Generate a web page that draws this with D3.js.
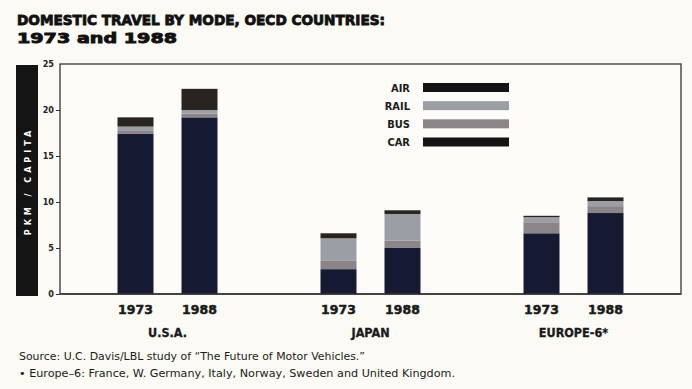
<!DOCTYPE html>
<html lang="en">
<head>
    <meta charset="UTF-8">
    <title>Domestic Travel by Mode</title>
    <script src="https://cdn.jsdelivr.net/npm/d3@7"></script>
    <style>
        body { margin: 0; background: #fbfaf4; }
        svg { display: block; }
        .title { font-family: "DejaVu Sans", sans-serif; font-weight: bold; font-size: 14.5px; fill: #111; stroke: #111; stroke-width: 0.9px; }
        .tick-lbl { font-family: "Liberation Sans Narrow", "DejaVu Sans Condensed", sans-serif; font-weight: bold; font-size: 9px; fill: #222; }
        .year { font-family: "DejaVu Sans", sans-serif; font-weight: bold; font-size: 12.5px; fill: #1a1a1a; stroke: #1a1a1a; stroke-width: 0.5px; }
        .country { font-family: "Liberation Sans Narrow", "DejaVu Sans Condensed", sans-serif; font-weight: bold; font-size: 12.5px; fill: #1a1a1a; stroke: #1a1a1a; stroke-width: 0.3px; }
        .legend { font-family: "Liberation Sans Narrow", "DejaVu Sans Condensed", sans-serif; font-weight: bold; font-size: 11px; fill: #1a1a1a; }
        .note { font-family: "DejaVu Sans", sans-serif; font-size: 9.6px; fill: #1a1a1a; }
    </style>
</head>
<body>
<div id="canvas"></div>
<script>

    const countries = ['U.S.A.', 'JAPAN', 'EUROPE-6*'];
    const years = ['1973', '1988'];
    const modes = ['car', 'bus', 'rail', 'air'];
    const legendLabels = ['AIR', 'RAIL', 'BUS', 'CAR'];
    const yTicks = [0, 5, 10, 15, 20, 25];

    // pkm per capita (thousands)
    const car  = [17.4, 19.2, 2.7, 5.0, 6.6, 8.8];
    const bus  = [0.4, 0.4, 0.9, 0.8, 1.2, 0.75];
    const rail = [0.4, 0.4, 2.45, 2.9, 0.55, 0.55];
    const air  = [1.0, 2.3, 0.55, 0.4, 0.15, 0.4];

    const colors = { car: '#161a33', bus: '#8b8489', rail: '#9c9ea5', air: '#2a2421' };
    const legendColors = { AIR: '#141414', RAIL: '#9c9ea5', BUS: '#8b8489', CAR: '#141414' };

    const width = 692, height = 389;
    const plot = { left: 60, right: 681, top: 64, bottom: 294 };

    const rows = [];
    countries.forEach((c, i) => {
        years.forEach((yr, j) => {
            const k = i * 2 + j;
            rows.push({ country: c, year: yr, car: car[k], bus: bus[k], rail: rail[k], air: air[k] });
        });
    });

    const svg = d3.select('#canvas')
        .append('svg')
        .attr('width', width)
        .attr('height', height);

    svg.append('rect')
        .attr('width', width)
        .attr('height', height)
        .attr('fill', '#fbfaf4');

    // title
    svg.append('text').attr('class', 'title')
        .attr('x', 17).attr('y', 25)
        .attr('textLength', 368).attr('lengthAdjust', 'spacingAndGlyphs')
        .text('DOMESTIC TRAVEL BY MODE, OECD COUNTRIES:');
    svg.append('text').attr('class', 'title')
        .attr('x', 17).attr('y', 43)
        .attr('textLength', 160).attr('lengthAdjust', 'spacingAndGlyphs')
        .text('1973 and 1988');

    const y = d3.scaleLinear().domain([0, 25]).range([plot.bottom, plot.top]);

    const x0 = d3.scaleBand().domain(countries).range([66, 675]);
    const half = x0.bandwidth() / 2;
    const x1 = d3.scaleBand().domain(years)
        .range([half - 50, half + 50])
        .paddingInner(0.4375).paddingOuter(0);

    // y label band
    svg.append('rect')
        .attr('x', 16).attr('y', plot.top + 1)
        .attr('width', 22).attr('height', plot.bottom - plot.top + 1)
        .attr('fill', '#141414');
    svg.append('text')
        .attr('transform', `translate(30.5,${(plot.top + plot.bottom) / 2 + 2}) rotate(-90)`)
        .attr('text-anchor', 'middle')
        .attr('fill', '#fff')
        .style('font-family', '"DejaVu Sans", sans-serif')
        .style('font-weight', 'bold')
        .style('font-size', '8px')
        .style('letter-spacing', '4px')
        .text('PKM / CAPITA');

    // frame
    svg.append('rect')
        .attr('x', plot.left).attr('y', plot.top)
        .attr('width', plot.right - plot.left).attr('height', plot.bottom - plot.top)
        .attr('fill', '#fdfcf8')
        .attr('stroke', '#333')
        .attr('stroke-width', 1.3);

    // y axis
    const yAxis = d3.axisLeft(y).tickValues(yTicks).tickSize(4).tickPadding(2);
    const gy = svg.append('g')
        .attr('transform', `translate(${plot.left},0)`)
        .call(yAxis);
    gy.select('.domain').remove();
    gy.selectAll('line').attr('stroke', '#333');
    gy.selectAll('text').attr('class', 'tick-lbl').attr('font-family', null).attr('font-size', null);
    gy.select('.tick:last-of-type line').remove();

    // stacked bars
    const stacked = d3.stack().keys(modes)(rows);
    svg.append('g')
        .selectAll('g')
        .data(stacked)
        .join('g')
        .attr('fill', d => colors[d.key])
        .selectAll('rect')
        .data(d => d)
        .join('rect')
        .attr('x', d => x0(d.data.country) + x1(d.data.year))
        .attr('y', d => y(d[1]))
        .attr('width', x1.bandwidth())
        .attr('height', d => y(d[0]) - y(d[1]));

    // baseline on top of bars
    svg.append('line')
        .attr('x1', plot.left).attr('x2', plot.right)
        .attr('y1', plot.bottom).attr('y2', plot.bottom)
        .attr('stroke', '#333').attr('stroke-width', 1.3);

    // year labels
    svg.append('g')
        .selectAll('text')
        .data(rows)
        .join('text')
        .attr('class', 'year')
        .attr('x', d => x0(d.country) + x1(d.year) + x1.bandwidth() / 2)
        .attr('y', 314)
        .attr('text-anchor', 'middle')
        .text(d => d.year);

    // country labels
    svg.append('g')
        .selectAll('text')
        .data(countries)
        .join('text')
        .attr('class', 'country')
        .attr('x', d => x0(d) + half)
        .attr('y', 337)
        .attr('text-anchor', 'middle')
        .text(d => d);

    // legend
    const ly = d3.scalePoint().domain(legendLabels).range([87.5, 142]);
    const lg = svg.append('g');
    lg.selectAll('rect')
        .data(legendLabels)
        .join('rect')
        .attr('x', 423).attr('y', d => ly(d) - 4.5)
        .attr('width', 86).attr('height', 9)
        .attr('fill', d => legendColors[d]);
    lg.selectAll('text')
        .data(legendLabels)
        .join('text')
        .attr('class', 'legend')
        .attr('x', 410).attr('y', d => ly(d) + 4)
        .attr('text-anchor', 'end')
        .text(d => d);

    // notes
    svg.append('text').attr('class', 'note')
        .attr('x', 19).attr('y', 360)
        .attr('textLength', 346).attr('lengthAdjust', 'spacingAndGlyphs')
        .text('Source: U.C. Davis/LBL study of \u201CThe Future of Motor Vehicles.\u201D');
    svg.append('text').attr('class', 'note')
        .attr('x', 19).attr('y', 377)
        .attr('textLength', 436).attr('lengthAdjust', 'spacingAndGlyphs')
        .text('\u2022 Europe\u20136: France, W. Germany, Italy, Norway, Sweden and United Kingdom.');

</script>
</body>
</html>
